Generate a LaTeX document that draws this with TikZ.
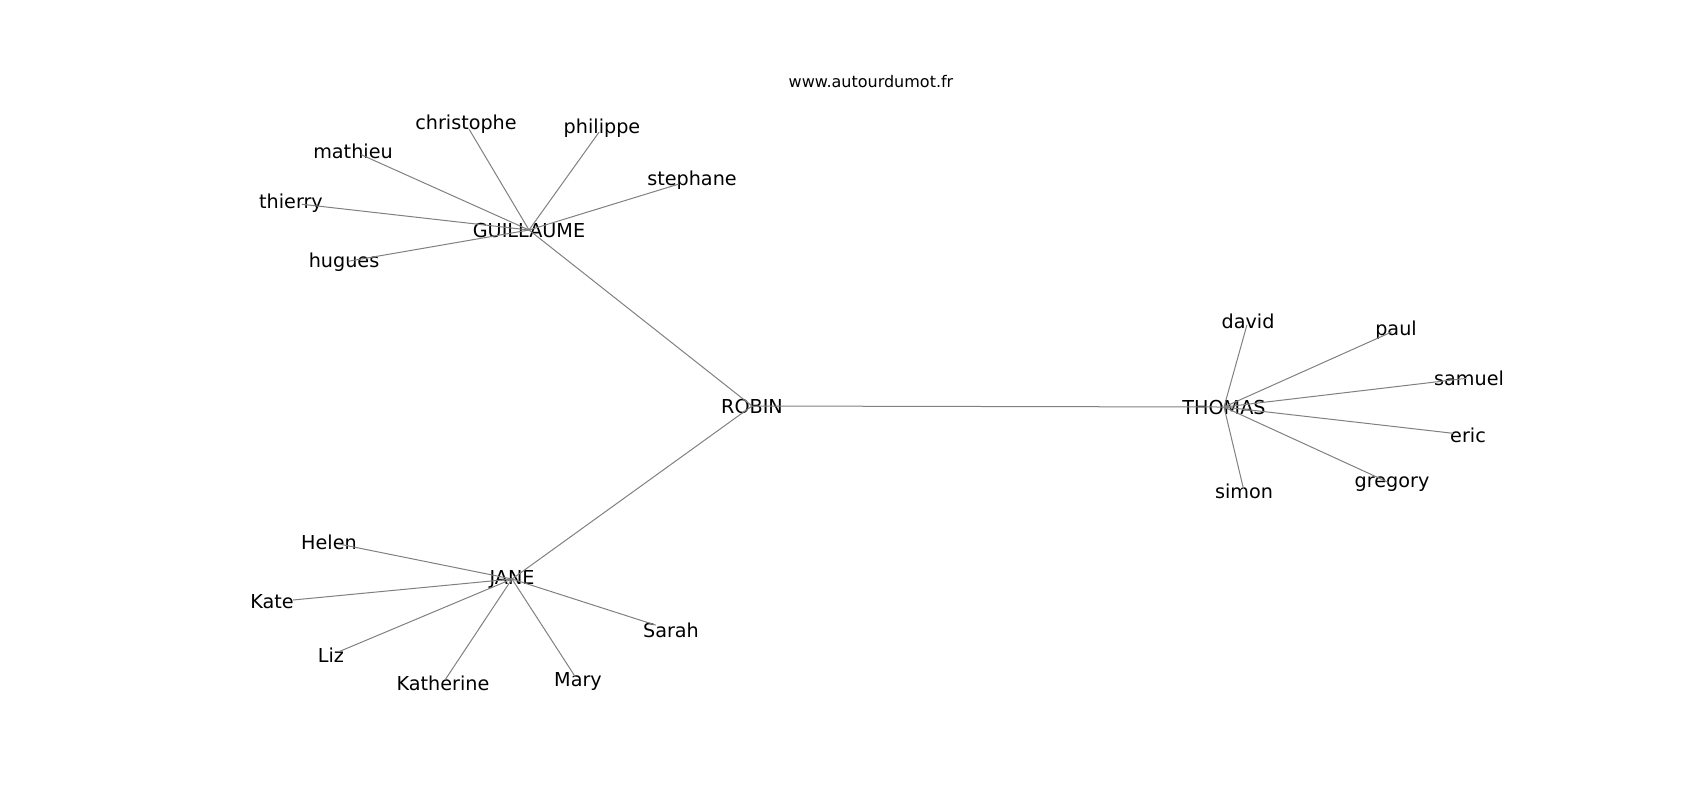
\documentclass[tikz,border=0pt]{standalone}
\usepackage{fontspec}
\setmainfont{DejaVu Sans}

\begin{document}
\begin{tikzpicture}[
  x=0.5pt, y=-0.5pt,
  person/.style={inner sep=0pt, font=\fontsize{9.6}{11}\selectfont},
  tie/.style={gray, line width=0.5pt},
]

\useasboundingbox (0,0) rectangle (1700,800);

\node [font=\fontsize{8}{10}\selectfont, inner sep=0pt] (site) at (871,82) {www.autourdumot.fr};

% hubs
\node [person] (robin) at (752,406) {ROBIN};
\node [person] (guillaume) at (529,230) {GUILLAUME};
\node [person] (thomas) at (1224,407) {THOMAS};
\node [person] (jane) at (512,579) {JANE};

% guillaume
\node [person] (christophe) at (466,124) {christophe};
\node [person] (philippe) at (602,128) {philippe};
\node [person] (mathieu) at (353,151) {mathieu};
\node [person] (stephane) at (692,180) {stephane};
\node [person] (thierry) at (291,203) {thierry};
\node [person] (hugues) at (344,262) {hugues};

% thomas
\node [person] (david) at (1248,321) {david};
\node [person] (paul) at (1396,330) {paul};
\node [person] (samuel) at (1469,378) {samuel};
\node [person] (eric) at (1468,435) {eric};
\node [person] (gregory) at (1392,484) {gregory};
\node [person] (simon) at (1244,491) {simon};

% jane
\node [person] (helen) at (329,542) {Helen};
\node [person] (kate) at (272,602) {Kate};
\node [person] (liz) at (331,655) {Liz};
\node [person] (katherine) at (443,683) {Katherine};
\node [person] (mary) at (578,681) {Mary};
\node [person] (sarah) at (671,630) {Sarah};

\draw [tie] (robin.center) -- (guillaume.center);
\draw [tie] (robin.center) -- (thomas.center);
\draw [tie] (robin.center) -- (jane.center);

\draw [tie, shorten >=3pt] (guillaume.center) -- (christophe.center);
\draw [tie, shorten >=2.5pt] (guillaume.center) -- (philippe.center);
\draw [tie, shorten >=4.5pt] (guillaume.center) -- (mathieu.center);
\draw [tie, shorten >=7pt] (guillaume.center) -- (stephane.center);
\draw [tie, shorten >=5.5pt] (guillaume.center) -- (thierry.center);
\draw [tie, shorten >=2.5pt] (guillaume.center) -- (hugues.center);

\draw [tie, shorten >=2pt] (thomas.center) -- (david.center);
\draw [tie, shorten >=2.5pt] (thomas.center) -- (paul.center);
\draw [tie, shorten >=1.5pt] (thomas.center) -- (samuel.center);
\draw [tie, shorten >=7.5pt] (thomas.center) -- (eric.center);
\draw [tie, shorten >=2pt] (thomas.center) -- (gregory.center);
\draw [tie, shorten >=1pt] (thomas.center) -- (simon.center);

\draw [tie, shorten >=5pt] (jane.center) -- (helen.center);
\draw [tie, shorten >=10.5pt] (jane.center) -- (kate.center);
\draw [tie, shorten >=4.5pt] (jane.center) -- (liz.center);
\draw [tie, shorten >=2pt] (jane.center) -- (katherine.center);
\draw [tie, shorten >=2.5pt] (jane.center) -- (mary.center);
\draw [tie, shorten >=8pt] (jane.center) -- (sarah.center);

\end{tikzpicture}
\end{document}
